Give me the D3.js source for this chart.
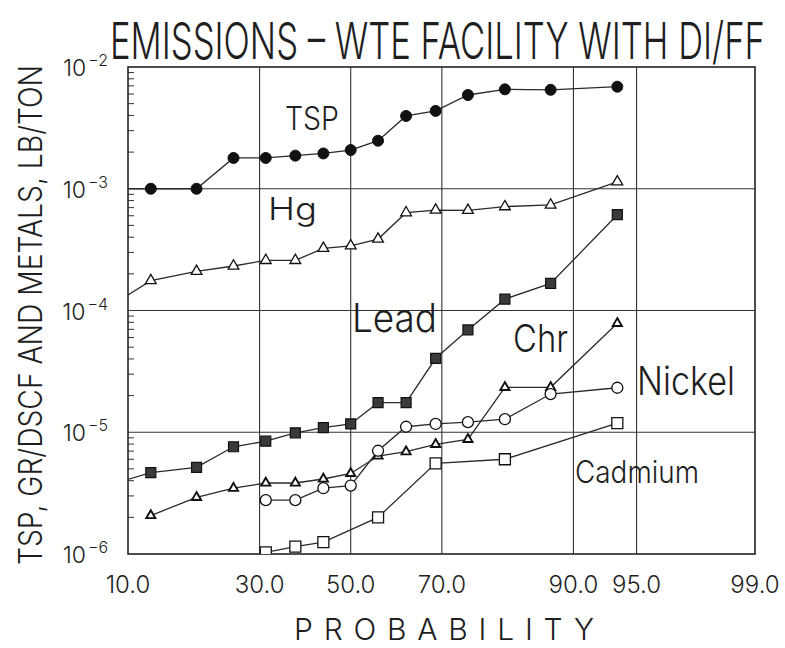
<!DOCTYPE html>
<html>
<head>
<meta charset="utf-8">
<script src="https://cdn.jsdelivr.net/npm/d3@7"></script>
<style>
  body { margin: 0; background: #fff; }
  text { font-family: "Liberation Sans", Arial, sans-serif; fill: #1e1e1e; }
  text.thin { font-family: Inter, "Liberation Sans", sans-serif; font-weight: 300; }
</style>
</head>
<body>
<svg id="chart"></svg>
<script>
// plotting positions (percent), i/(n+1) with n = 15
const probability = [6.25, 12.5, 18.75, 25, 31.25, 37.5, 43.75, 50, 56.25, 62.5, 68.75, 75, 81.25, 87.5, 93.75];

// values (null = no point)
const tsp = [1.0e-3, 1.0e-3, 1.0e-3, 1.79e-3, 1.79e-3, 1.87e-3, 1.95e-3, 2.08e-3, 2.48e-3, 3.96e-3, 4.36e-3, 5.89e-3, 6.56e-3, 6.5e-3, 6.89e-3];
const hg = [7.9e-5, 1.76e-4, 2.10e-4, 2.32e-4, 2.58e-4, 2.58e-4, 3.24e-4, 3.40e-4, 3.86e-4, 6.36e-4, 6.68e-4, 6.65e-4, 7.13e-4, 7.36e-4, 1.14e-3];
const lead = [3.2e-6, 4.66e-6, 5.15e-6, 7.6e-6, 8.44e-6, 9.9e-6, 1.09e-5, 1.17e-5, 1.75e-5, 1.75e-5, 4.05e-5, 6.92e-5, 1.24e-4, 1.67e-4, 6.12e-4];
const chr = [null, 2.07e-6, 2.92e-6, 3.47e-6, 3.83e-6, 3.83e-6, 4.13e-6, 4.59e-6, 6.38e-6, 6.92e-6, 7.96e-6, 8.75e-6, 2.34e-5, 2.34e-5, 7.85e-5];
const nickel = [null, null, null, null, 2.77e-6, 2.77e-6, 3.47e-6, 3.65e-6, 7.05e-6, 1.11e-5, 1.17e-5, 1.21e-5, 1.28e-5, 2.06e-5, 2.32e-5];
const cadmium = [null, null, null, null, 1.03e-6, 1.15e-6, 1.25e-6, null, 2.0e-6, null, 5.56e-6, null, 6.0e-6, null, 1.19e-5];

const xTicks = [10, 30, 50, 70, 90, 95, 99];
const yDecades = [1e-6, 1e-5, 1e-4, 1e-3, 1e-2];

const width = 785, height = 648;
const mLeft = 128, mRight = 755, mTop = 67, mBottom = 554;

// inverse normal CDF (Acklam)
function probit(p) {
    const a = [-3.969683028665376e+01, 2.209460984245205e+02, -2.759285104469687e+02, 1.383577518672690e+02, -3.066479806614716e+01, 2.506628277459239e+00];
    const b = [-5.447609879822406e+01, 1.615858368580409e+02, -1.556989798598866e+02, 6.680131188771972e+01, -1.328068155288572e+01];
    const c = [-7.784894002430293e-03, -3.223964580411365e-01, -2.400758277161838e+00, -2.549732539343734e+00, 4.374664141464968e+00, 2.938163982698783e+00];
    const d = [7.784695709041462e-03, 3.224671290700398e-01, 2.445134137142996e+00, 3.754408661907416e+00];
    const pl = 0.02425;
    if (p < pl) {
        const q = Math.sqrt(-2 * Math.log(p));
        return (((((c[0]*q+c[1])*q+c[2])*q+c[3])*q+c[4])*q+c[5]) / ((((d[0]*q+d[1])*q+d[2])*q+d[3])*q+1);
    }
    if (p > 1 - pl) {
        const q = Math.sqrt(-2 * Math.log(1 - p));
        return -(((((c[0]*q+c[1])*q+c[2])*q+c[3])*q+c[4])*q+c[5]) / ((((d[0]*q+d[1])*q+d[2])*q+d[3])*q+1);
    }
    const q = p - 0.5, r = q * q;
    return (((((a[0]*r+a[1])*r+a[2])*r+a[3])*r+a[4])*r+a[5])*q / (((((b[0]*r+b[1])*r+b[2])*r+b[3])*r+b[4])*r+1);
}

const z = d3.scaleLinear()
    .domain([probit(0.10), probit(0.99)])
    .range([mLeft, mRight]);
const x = p => z(probit(p / 100));

const y = d3.scaleLog()
    .domain([1e-6, 1e-2])
    .range([mBottom, mTop]);

const svg = d3.select("#chart")
    .attr("width", width)
    .attr("height", height);

svg.append("defs").append("clipPath")
    .attr("id", "plot")
    .append("rect")
    .attr("x", mLeft).attr("y", mTop)
    .attr("width", mRight - mLeft).attr("height", mBottom - mTop);

// grid
const grid = svg.append("g").attr("stroke", "#333").attr("stroke-width", 1.1);
xTicks.slice(1, -1).forEach(p => {
    grid.append("line")
        .attr("x1", x(p)).attr("x2", x(p))
        .attr("y1", mTop).attr("y2", mBottom);
});
yDecades.slice(1, -1).forEach(v => {
    grid.append("line")
        .attr("x1", mLeft).attr("x2", mRight)
        .attr("y1", y(v)).attr("y2", y(v));
});

// minor log ticks on the left, inside
const minors = [];
yDecades.slice(0, -1).forEach(dec => {
    for (let k = 2; k <= 9; k++) minors.push(dec * k);
});
svg.append("g").attr("stroke", "#333").attr("stroke-width", 1)
    .selectAll("line")
    .data(minors)
    .enter()
    .append("line")
    .attr("x1", mLeft).attr("x2", mLeft + 6)
    .attr("y1", d => y(d)).attr("y2", d => y(d));

svg.append("rect")
    .attr("x", mLeft).attr("y", mTop)
    .attr("width", mRight - mLeft).attr("height", mBottom - mTop)
    .attr("fill", "none")
    .attr("stroke", "#222")
    .attr("stroke-width", 1.6);

// x tick labels
svg.append("g")
    .selectAll("text")
    .data(xTicks)
    .enter()
    .append("text")
    .attr("class", "thin")
    .attr("x", d => x(d))
    .attr("y", 593)
    .attr("text-anchor", "middle")
    .attr("font-size", "24px")
    .text(d => d.toFixed(1));

// y tick labels 10^n
const yLab = svg.append("g")
    .selectAll("text")
    .data(yDecades)
    .enter()
    .append("text")
    .attr("class", "thin")
    .attr("x", 108)
    .attr("y", d => y(d) + 9)
    .attr("text-anchor", "end")
    .attr("font-size", "23px");
yLab.append("tspan").text("10");
yLab.append("tspan")
    .attr("dy", -10)
    .attr("dx", 2)
    .attr("font-size", "16px")
    .text(d => "\u2212" + Math.round(-Math.log10(d)));

// title: tall, narrow plotter lettering, stretched to fit 110..765
const title = svg.append("text")
    .attr("class", "thin")
    .attr("font-size", "36px")
    .text("EMISSIONS \u2013 WTE FACILITY WITH DI/FF");
const tw = title.node().getComputedTextLength();
title.attr("transform", `translate(110,59) scale(${655 / tw},1.42)`);

svg.append("text")
    .attr("class", "thin")
    .attr("x", 294)
    .attr("y", 640)
    .attr("font-size", "30px")
    .attr("textLength", 300)
    .attr("lengthAdjust", "spacing")
    .text("PROBABILITY");

svg.append("text")
    .attr("class", "thin")
    .attr("transform", "translate(42,315) rotate(-90)")
    .attr("text-anchor", "middle")
    .attr("font-size", "32px")
    .attr("textLength", 500)
    .attr("lengthAdjust", "spacingAndGlyphs")
    .text("TSP, GR/DSCF AND METALS, LB/TON");

// series
const series = [
    { name: "TSP", values: tsp, symbol: d3.symbolCircle, size: 95, fill: "#111", sw: 1 },
    { name: "Hg", values: hg, symbol: d3.symbolTriangle, size: 50, fill: "#fff", sw: 1.3 },
    { name: "Lead", values: lead, symbol: d3.symbolSquare, size: 100, fill: "#3a3a3a", sw: 1.2 },
    { name: "Chr", values: chr, symbol: d3.symbolTriangle, size: 36, fill: "#fff", sw: 1.9 },
    { name: "Nickel", values: nickel, symbol: d3.symbolCircle, size: 95, fill: "#fff", sw: 1.3 },
    { name: "Cadmium", values: cadmium, symbol: d3.symbolSquare, size: 121, fill: "#fff", sw: 1.3 }
];

const line = d3.line()
    .x(d => x(d.p))
    .y(d => y(d.v));

const plot = svg.append("g").attr("clip-path", "url(#plot)");

series.forEach(s => {
    const pts = probability.map((p, i) => ({ p: p, v: s.values[i] })).filter(d => d.v != null);
    plot.append("path")
        .datum(pts)
        .attr("d", line)
        .attr("fill", "none")
        .attr("stroke", "#2a2a2a")
        .attr("stroke-width", 1.3);
    plot.selectAll(null)
        .data(pts)
        .enter()
        .append("path")
        .attr("transform", d => `translate(${x(d.p)},${y(d.v)})`)
        .attr("d", d3.symbol().type(s.symbol).size(s.size))
        .attr("fill", s.fill)
        .attr("stroke", "#111")
        .attr("stroke-width", s.sw);
});

// series labels
const labels = svg.append("g");
const label = (t, lx, ly, fs, len) => labels.append("text")
    .attr("class", "thin")
    .attr("x", lx).attr("y", ly).attr("font-size", fs + "px")
    .attr("textLength", len).attr("lengthAdjust", "spacingAndGlyphs").text(t);
label("TSP", 285, 130, 32, 54);
label("Hg", 268, 220, 31, 49);
label("Lead", 352, 332, 40, 85);
label("Chr", 513, 352, 38, 55);
label("Nickel", 637, 395, 39, 98);
label("Cadmium", 575, 483, 31, 124);
</script>
</body>
</html>
